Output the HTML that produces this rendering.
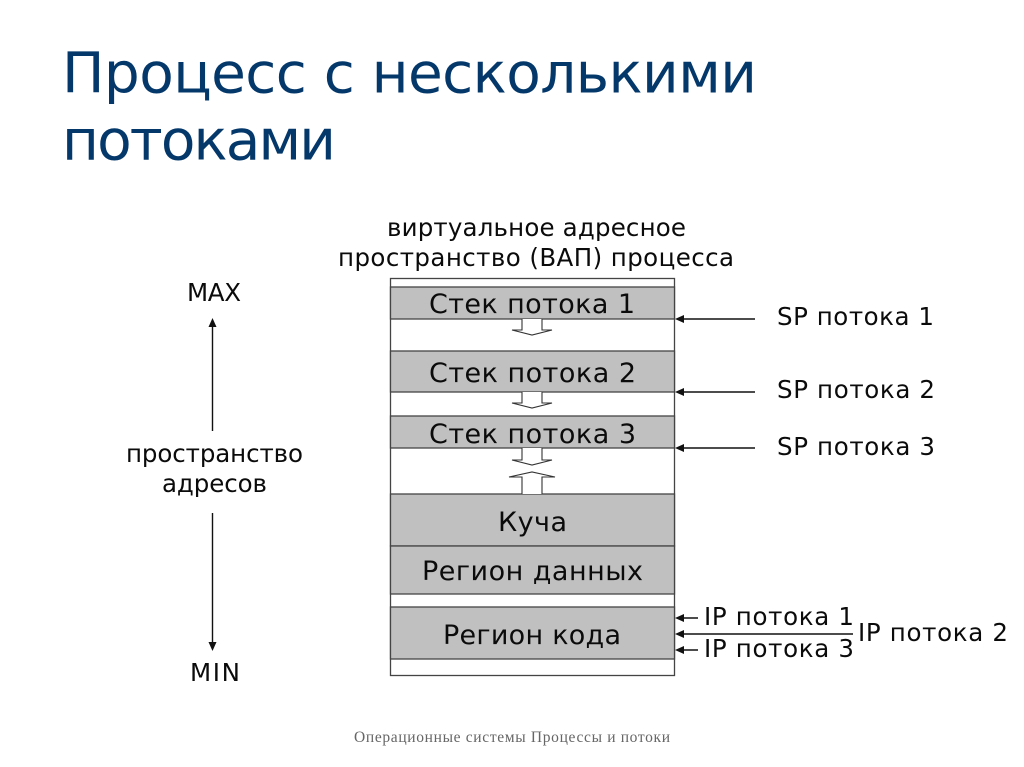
<!DOCTYPE html>
<html><head><meta charset="utf-8"><style>
html,body{margin:0;padding:0;background:#fff;width:1024px;height:767px;overflow:hidden}
svg{display:block}
.t{font-family:"DejaVu Sans",sans-serif;fill:#0b0b0b}
</style></head><body>
<svg width="1024" height="767" viewBox="0 0 1024 767" xmlns="http://www.w3.org/2000/svg">
<rect width="1024" height="767" fill="#fff"/>
<g font-family="'DejaVu Sans',sans-serif" fill="#04386b" font-size="56.5">
<text x="62" y="92.500" textLength="695">Процесс с несколькими</text>
<text x="62" y="159.500" textLength="274">потоками</text>
</g>
<text x="354" y="742" textLength="316" font-family="'Liberation Serif',serif" font-size="15.5" fill="#666">Операционные системы Процессы и потоки</text>

<rect x="390.5" y="278.5" width="284" height="397" fill="#fff" stroke="#444" stroke-width="1.3"/>
<g fill="#c0c0c0" stroke="#444" stroke-width="1.3">
<rect x="390.5" y="287" width="284" height="32"/>
<rect x="390.5" y="351" width="284" height="41"/>
<rect x="390.5" y="416" width="284" height="32"/>
<rect x="390.5" y="494" width="284" height="52"/>
<rect x="390.5" y="546" width="284" height="48"/>
<rect x="390.5" y="607" width="284" height="52"/>
</g>
<g fill="#fff" stroke="#333" stroke-width="1.1">
<path d="M522 319V330H512L532 335L552 330H542V319"/>
<path d="M522 392V403H512L532 408L552 403H542V392"/>
<path d="M522 448V460H512L532 465L552 460H542V448"/>
<path d="M522 494V477H509L532 472L555 477H542V494"/>
</g>
<g font-size="27">
<text class="t" x="429" y="313" textLength="206">Стек потока 1</text>
<text class="t" x="429" y="382" textLength="207">Стек потока 2</text>
<text class="t" x="429" y="443" textLength="207">Стек потока 3</text>
<text class="t" x="498" y="531" textLength="69">Куча</text>
<text class="t" x="422" y="580" textLength="221">Регион данных</text>
<text class="t" x="443" y="644" textLength="178">Регион кода</text>
</g>
<g font-size="24.5">
<text class="t" x="387" y="236" textLength="299">виртуальное адресное</text>
<text class="t" x="338" y="266" textLength="396">пространство (ВАП) процесса</text>
<text class="t" x="187" y="301" textLength="54">MAX</text>
<text class="t" x="190" y="681" textLength="50">MIN</text>
<text class="t" x="126" y="462" textLength="177">пространство</text>
<text class="t" x="162" y="492" textLength="105">адресов</text>
<text class="t" x="777" y="325" textLength="157">SP потока 1</text>
<text class="t" x="777" y="398" textLength="158">SP потока 2</text>
<text class="t" x="777" y="455" textLength="158">SP потока 3</text>
<text class="t" x="704" y="625" textLength="150">IP потока 1</text>
<text class="t" x="858" y="641" textLength="150">IP потока 2</text>
<text class="t" x="704" y="657" textLength="150">IP потока 3</text>
</g>
<g stroke="#111" stroke-width="1.4" fill="none">
<path d="M682 319H755M682 392H755M682 448H755"/>
<path d="M682 618H698M682 634H853M682 650H698"/>
<path d="M212.500 326V431M212.500 513V643"/>
</g>
<g fill="#111">
<path d="M675 319L684 315V323Z"/>
<path d="M675 392L684 388V396Z"/>
<path d="M675 448L684 444V452Z"/>
<path d="M675 618L684 614V622Z"/>
<path d="M675 634L684 630V638Z"/>
<path d="M675 650L684 646V654Z"/>
<path d="M212.500 318L208.500 327H216.500Z"/>
<path d="M212.500 651L208.500 642H216.500Z"/>
</g>
</svg>
</body></html>
